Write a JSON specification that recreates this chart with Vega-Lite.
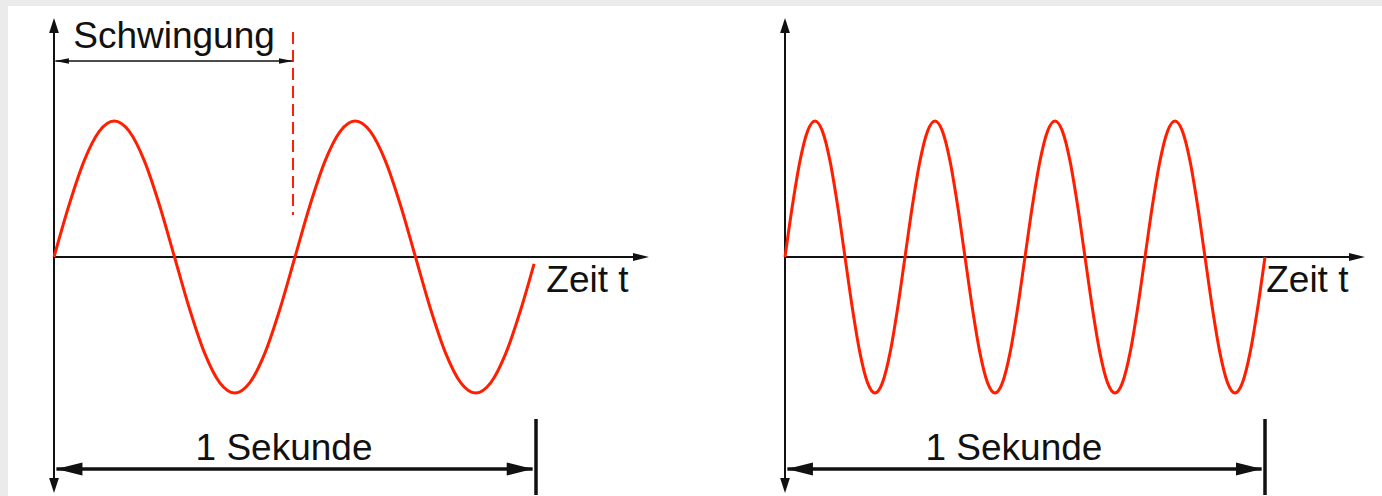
{
  "$schema": "https://vega.github.io/schema/vega-lite/v6.json",
  "background": "#ebebeb",
  "padding": {"left": 8, "top": 6, "right": 0, "bottom": 0},
  "spacing": 0,
  "config": {"view": {"fill": "white", "stroke": null}, "concat": {"spacing": 0}},
  "datasets": {
    "waves": [
      {"panel": "L", "t": 0, "a": 0},
      {"panel": "L", "t": 0.03125, "a": 0.38268},
      {"panel": "L", "t": 0.0625, "a": 0.70711},
      {"panel": "L", "t": 0.09375, "a": 0.92388},
      {"panel": "L", "t": 0.125, "a": 1},
      {"panel": "L", "t": 0.15625, "a": 0.92388},
      {"panel": "L", "t": 0.1875, "a": 0.70711},
      {"panel": "L", "t": 0.21875, "a": 0.38268},
      {"panel": "L", "t": 0.25, "a": 0},
      {"panel": "L", "t": 0.28125, "a": -0.38268},
      {"panel": "L", "t": 0.3125, "a": -0.70711},
      {"panel": "L", "t": 0.34375, "a": -0.92388},
      {"panel": "L", "t": 0.375, "a": -1},
      {"panel": "L", "t": 0.40625, "a": -0.92388},
      {"panel": "L", "t": 0.4375, "a": -0.70711},
      {"panel": "L", "t": 0.46875, "a": -0.38268},
      {"panel": "L", "t": 0.5, "a": 0},
      {"panel": "L", "t": 0.53125, "a": 0.38268},
      {"panel": "L", "t": 0.5625, "a": 0.70711},
      {"panel": "L", "t": 0.59375, "a": 0.92388},
      {"panel": "L", "t": 0.625, "a": 1},
      {"panel": "L", "t": 0.65625, "a": 0.92388},
      {"panel": "L", "t": 0.6875, "a": 0.70711},
      {"panel": "L", "t": 0.71875, "a": 0.38268},
      {"panel": "L", "t": 0.75, "a": 0},
      {"panel": "L", "t": 0.78125, "a": -0.38268},
      {"panel": "L", "t": 0.8125, "a": -0.70711},
      {"panel": "L", "t": 0.84375, "a": -0.92388},
      {"panel": "L", "t": 0.875, "a": -1},
      {"panel": "L", "t": 0.90625, "a": -0.92388},
      {"panel": "L", "t": 0.9375, "a": -0.70711},
      {"panel": "L", "t": 0.96875, "a": -0.38268},
      {"panel": "L", "t": 0.996, "a": -0.05},
      {"panel": "R", "t": 0, "a": 0},
      {"panel": "R", "t": 0.015625, "a": 0.38268},
      {"panel": "R", "t": 0.03125, "a": 0.70711},
      {"panel": "R", "t": 0.046875, "a": 0.92388},
      {"panel": "R", "t": 0.0625, "a": 1},
      {"panel": "R", "t": 0.078125, "a": 0.92388},
      {"panel": "R", "t": 0.09375, "a": 0.70711},
      {"panel": "R", "t": 0.109375, "a": 0.38268},
      {"panel": "R", "t": 0.125, "a": 0},
      {"panel": "R", "t": 0.140625, "a": -0.38268},
      {"panel": "R", "t": 0.15625, "a": -0.70711},
      {"panel": "R", "t": 0.171875, "a": -0.92388},
      {"panel": "R", "t": 0.1875, "a": -1},
      {"panel": "R", "t": 0.203125, "a": -0.92388},
      {"panel": "R", "t": 0.21875, "a": -0.70711},
      {"panel": "R", "t": 0.234375, "a": -0.38268},
      {"panel": "R", "t": 0.25, "a": 0},
      {"panel": "R", "t": 0.265625, "a": 0.38268},
      {"panel": "R", "t": 0.28125, "a": 0.70711},
      {"panel": "R", "t": 0.296875, "a": 0.92388},
      {"panel": "R", "t": 0.3125, "a": 1},
      {"panel": "R", "t": 0.328125, "a": 0.92388},
      {"panel": "R", "t": 0.34375, "a": 0.70711},
      {"panel": "R", "t": 0.359375, "a": 0.38268},
      {"panel": "R", "t": 0.375, "a": 0},
      {"panel": "R", "t": 0.390625, "a": -0.38268},
      {"panel": "R", "t": 0.40625, "a": -0.70711},
      {"panel": "R", "t": 0.421875, "a": -0.92388},
      {"panel": "R", "t": 0.4375, "a": -1},
      {"panel": "R", "t": 0.453125, "a": -0.92388},
      {"panel": "R", "t": 0.46875, "a": -0.70711},
      {"panel": "R", "t": 0.484375, "a": -0.38268},
      {"panel": "R", "t": 0.5, "a": 0},
      {"panel": "R", "t": 0.515625, "a": 0.38268},
      {"panel": "R", "t": 0.53125, "a": 0.70711},
      {"panel": "R", "t": 0.546875, "a": 0.92388},
      {"panel": "R", "t": 0.5625, "a": 1},
      {"panel": "R", "t": 0.578125, "a": 0.92388},
      {"panel": "R", "t": 0.59375, "a": 0.70711},
      {"panel": "R", "t": 0.609375, "a": 0.38268},
      {"panel": "R", "t": 0.625, "a": 0},
      {"panel": "R", "t": 0.640625, "a": -0.38268},
      {"panel": "R", "t": 0.65625, "a": -0.70711},
      {"panel": "R", "t": 0.671875, "a": -0.92388},
      {"panel": "R", "t": 0.6875, "a": -1},
      {"panel": "R", "t": 0.703125, "a": -0.92388},
      {"panel": "R", "t": 0.71875, "a": -0.70711},
      {"panel": "R", "t": 0.734375, "a": -0.38268},
      {"panel": "R", "t": 0.75, "a": 0},
      {"panel": "R", "t": 0.765625, "a": 0.38268},
      {"panel": "R", "t": 0.78125, "a": 0.70711},
      {"panel": "R", "t": 0.796875, "a": 0.92388},
      {"panel": "R", "t": 0.8125, "a": 1},
      {"panel": "R", "t": 0.828125, "a": 0.92388},
      {"panel": "R", "t": 0.84375, "a": 0.70711},
      {"panel": "R", "t": 0.859375, "a": 0.38268},
      {"panel": "R", "t": 0.875, "a": 0},
      {"panel": "R", "t": 0.890625, "a": -0.38268},
      {"panel": "R", "t": 0.90625, "a": -0.70711},
      {"panel": "R", "t": 0.921875, "a": -0.92388},
      {"panel": "R", "t": 0.9375, "a": -1},
      {"panel": "R", "t": 0.953125, "a": -0.92388},
      {"panel": "R", "t": 0.96875, "a": -0.70711},
      {"panel": "R", "t": 0.984375, "a": -0.38268},
      {"panel": "R", "t": 1.0, "a": 0}
    ],
    "lines": [
      {"panel": "L", "kind": "achse", "t": 0, "t2": 0, "a": 1.713, "a2": -1.669},
      {"panel": "L", "kind": "achse", "t": 0, "t2": 1.2261, "a": 0, "a2": 0},
      {"panel": "L", "kind": "mass", "t": 0.005, "t2": 0.993, "a": -1.5588, "a2": -1.5588},
      {"panel": "L", "kind": "mass", "t": 1, "t2": 1, "a": -1.1912, "a2": -1.75},
      {"panel": "L", "kind": "periode", "t": 0.003, "t2": 0.494, "a": 1.4412, "a2": 1.4412},
      {"panel": "L", "kind": "marke", "t": 0.4959, "t2": 0.4959, "a": 1.6544, "a2": 0.3088},
      {"panel": "R", "kind": "achse", "t": 0, "t2": 0, "a": 1.713, "a2": -1.669},
      {"panel": "R", "kind": "achse", "t": 0, "t2": 1.2, "a": 0, "a2": 0},
      {"panel": "R", "kind": "mass", "t": 0.005, "t2": 0.993, "a": -1.5588, "a2": -1.5588},
      {"panel": "R", "kind": "mass", "t": 1, "t2": 1, "a": -1.1912, "a2": -1.75}
    ],
    "heads": [
      {"panel": "L", "dir": "oben", "t": 0, "a": 1.7574},
      {"panel": "L", "dir": "unten", "t": 0, "a": -1.7353},
      {"panel": "L", "dir": "rechts", "t": 1.2344, "a": 0},
      {"panel": "L", "dir": "links_gross", "t": 0.005, "a": -1.5588},
      {"panel": "L", "dir": "rechts_gross", "t": 0.9932, "a": -1.5588},
      {"panel": "L", "dir": "links_klein", "t": 0.002, "a": 1.4412},
      {"panel": "L", "dir": "rechts_klein", "t": 0.4959, "a": 1.4412},
      {"panel": "R", "dir": "oben", "t": 0, "a": 1.7574},
      {"panel": "R", "dir": "unten", "t": 0, "a": -1.7353},
      {"panel": "R", "dir": "rechts", "t": 1.2083, "a": 0},
      {"panel": "R", "dir": "links_gross", "t": 0.004, "a": -1.5588},
      {"panel": "R", "dir": "rechts_gross", "t": 0.9937, "a": -1.5588}
    ],
    "labels": [
      {"panel": "L", "label": "Schwingung", "t": 0.249, "a": 1.5404},
      {"panel": "L", "label": "Zeit t", "t": 1.1068, "a": -0.2574},
      {"panel": "L", "label": "1 Sekunde", "t": 0.4772, "a": -1.4926},
      {"panel": "R", "label": "Zeit t", "t": 1.0882, "a": -0.261},
      {"panel": "R", "label": "1 Sekunde", "t": 0.477, "a": -1.4926}
    ]
  },
  "hconcat": [
    {
      "width": 692,
      "height": 490,
      "encoding": {
        "x": {"field": "t", "type": "quantitative", "scale": {"domain": [-0.095436, 1.340249], "nice": false, "zero": false}, "axis": null},
        "y": {"field": "a", "type": "quantitative", "scale": {"domain": [-1.757353, 1.845588], "nice": false, "zero": false}, "axis": null}
      },
      "layer": [
        {"data": {"name": "lines"}, "transform": [{"filter": "datum.panel === 'L' && datum.kind === 'marke'"}], "mark": {"type": "rule", "color": "#ff1e00", "strokeWidth": 2, "strokeDash": [12, 6]}, "encoding": {"x2": {"field": "t2"}, "y2": {"field": "a2"}}},
        {"data": {"name": "lines"}, "transform": [{"filter": "datum.panel === 'L' && datum.kind === 'achse'"}], "mark": {"type": "rule", "color": "#111", "strokeWidth": 2}, "encoding": {"x2": {"field": "t2"}, "y2": {"field": "a2"}}},
        {"data": {"name": "lines"}, "transform": [{"filter": "datum.panel === 'L' && datum.kind === 'mass'"}], "mark": {"type": "rule", "color": "#111", "strokeWidth": 3.5}, "encoding": {"x2": {"field": "t2"}, "y2": {"field": "a2"}}},
        {"data": {"name": "lines"}, "transform": [{"filter": "datum.panel === 'L' && datum.kind === 'periode'"}], "mark": {"type": "rule", "color": "#111", "strokeWidth": 1.5}, "encoding": {"x2": {"field": "t2"}, "y2": {"field": "a2"}}},
        {"data": {"name": "waves"}, "transform": [{"filter": "datum.panel === 'L'"}], "mark": {"type": "line", "color": "#ff1e00", "strokeWidth": 3, "interpolate": "monotone"}},
        {"data": {"name": "heads"}, "transform": [{"filter": "datum.panel === 'L' && datum.dir === 'oben'"}], "mark": {"type": "point", "shape": "M0,0 L0.65,2 L-0.65,2 Z", "size": 225, "filled": true, "color": "#111", "opacity": 1, "strokeWidth": 0}},
        {"data": {"name": "heads"}, "transform": [{"filter": "datum.panel === 'L' && datum.dir === 'unten'"}], "mark": {"type": "point", "shape": "M0,0 L0.65,-2 L-0.65,-2 Z", "size": 225, "filled": true, "color": "#111", "opacity": 1, "strokeWidth": 0}},
        {"data": {"name": "heads"}, "transform": [{"filter": "datum.panel === 'L' && datum.dir === 'rechts'"}], "mark": {"type": "point", "shape": "M0,0 L-2,-0.5 L-2,0.5 Z", "size": 256, "filled": true, "color": "#111", "opacity": 1, "strokeWidth": 0}},
        {"data": {"name": "heads"}, "transform": [{"filter": "datum.panel === 'L' && datum.dir === 'links_gross'"}], "mark": {"type": "point", "shape": "M0,0 L2,-0.5 L2,0.5 Z", "size": 676, "filled": true, "color": "#111", "opacity": 1, "strokeWidth": 0}},
        {"data": {"name": "heads"}, "transform": [{"filter": "datum.panel === 'L' && datum.dir === 'rechts_gross'"}], "mark": {"type": "point", "shape": "M0,0 L-2,-0.5 L-2,0.5 Z", "size": 676, "filled": true, "color": "#111", "opacity": 1, "strokeWidth": 0}},
        {"data": {"name": "heads"}, "transform": [{"filter": "datum.panel === 'L' && datum.dir === 'links_klein'"}], "mark": {"type": "point", "shape": "M0,0 L2,-0.4 L2,0.4 Z", "size": 196, "filled": true, "color": "#111", "opacity": 1, "strokeWidth": 0}},
        {"data": {"name": "heads"}, "transform": [{"filter": "datum.panel === 'L' && datum.dir === 'rechts_klein'"}], "mark": {"type": "point", "shape": "M0,0 L-2,-0.4 L-2,0.4 Z", "size": 196, "filled": true, "color": "#111", "opacity": 1, "strokeWidth": 0}},
        {"data": {"name": "labels"}, "transform": [{"filter": "datum.panel === 'L'"}], "mark": {"type": "text", "font": "Liberation Sans", "fontSize": 37, "color": "#111", "align": "center", "baseline": "alphabetic"}, "encoding": {"text": {"field": "label"}}}
      ]
    },
    {
      "width": 682,
      "height": 490,
      "encoding": {
        "x": {"field": "t", "type": "quantitative", "scale": {"domain": [-0.177083, 1.24375], "nice": false, "zero": false}, "axis": null},
        "y": {"field": "a", "type": "quantitative", "scale": {"domain": [-1.757353, 1.845588], "nice": false, "zero": false}, "axis": null}
      },
      "layer": [
        {"data": {"name": "lines"}, "transform": [{"filter": "datum.panel === 'R' && datum.kind === 'achse'"}], "mark": {"type": "rule", "color": "#111", "strokeWidth": 2}, "encoding": {"x2": {"field": "t2"}, "y2": {"field": "a2"}}},
        {"data": {"name": "lines"}, "transform": [{"filter": "datum.panel === 'R' && datum.kind === 'mass'"}], "mark": {"type": "rule", "color": "#111", "strokeWidth": 3.5}, "encoding": {"x2": {"field": "t2"}, "y2": {"field": "a2"}}},
        {"data": {"name": "waves"}, "transform": [{"filter": "datum.panel === 'R'"}], "mark": {"type": "line", "color": "#ff1e00", "strokeWidth": 3, "interpolate": "monotone"}},
        {"data": {"name": "heads"}, "transform": [{"filter": "datum.panel === 'R' && datum.dir === 'oben'"}], "mark": {"type": "point", "shape": "M0,0 L0.65,2 L-0.65,2 Z", "size": 225, "filled": true, "color": "#111", "opacity": 1, "strokeWidth": 0}},
        {"data": {"name": "heads"}, "transform": [{"filter": "datum.panel === 'R' && datum.dir === 'unten'"}], "mark": {"type": "point", "shape": "M0,0 L0.65,-2 L-0.65,-2 Z", "size": 225, "filled": true, "color": "#111", "opacity": 1, "strokeWidth": 0}},
        {"data": {"name": "heads"}, "transform": [{"filter": "datum.panel === 'R' && datum.dir === 'rechts'"}], "mark": {"type": "point", "shape": "M0,0 L-2,-0.5 L-2,0.5 Z", "size": 256, "filled": true, "color": "#111", "opacity": 1, "strokeWidth": 0}},
        {"data": {"name": "heads"}, "transform": [{"filter": "datum.panel === 'R' && datum.dir === 'links_gross'"}], "mark": {"type": "point", "shape": "M0,0 L2,-0.5 L2,0.5 Z", "size": 676, "filled": true, "color": "#111", "opacity": 1, "strokeWidth": 0}},
        {"data": {"name": "heads"}, "transform": [{"filter": "datum.panel === 'R' && datum.dir === 'rechts_gross'"}], "mark": {"type": "point", "shape": "M0,0 L-2,-0.5 L-2,0.5 Z", "size": 676, "filled": true, "color": "#111", "opacity": 1, "strokeWidth": 0}},
        {"data": {"name": "labels"}, "transform": [{"filter": "datum.panel === 'R'"}], "mark": {"type": "text", "font": "Liberation Sans", "fontSize": 37, "color": "#111", "align": "center", "baseline": "alphabetic"}, "encoding": {"text": {"field": "label"}}}
      ]
    }
  ]
}
